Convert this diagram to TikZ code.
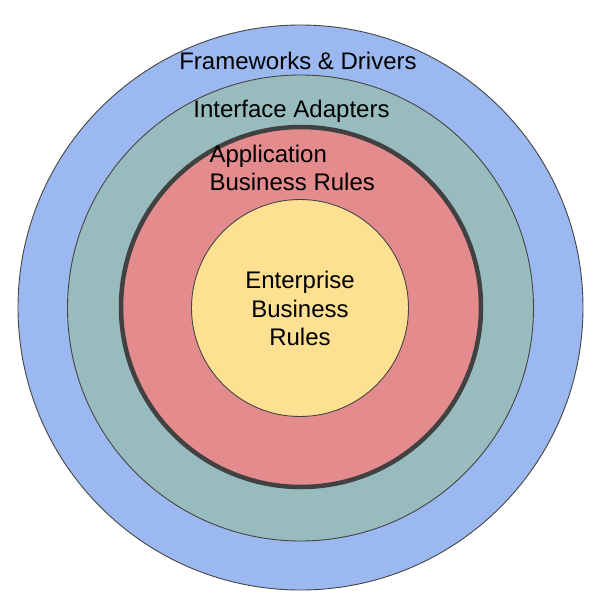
\documentclass[tikz,border=0pt]{standalone}
\usepackage{fontspec}
\setmainfont{Liberation Sans}
\definecolor{ringblue}{HTML}{9BB9F0}
\definecolor{ringteal}{HTML}{98BBBE}
\definecolor{ringred}{HTML}{E38B8D}
\definecolor{ringyellow}{HTML}{FDE091}
\definecolor{ringline}{HTML}{444444}
\begin{document}
\begin{tikzpicture}[x=1pt,y=-1pt,
  ring/.style={circle, draw=ringline, line width=0.9pt, inner sep=0pt, outer sep=0pt},
  label/.style={inner sep=0pt, outer sep=0pt, font=\fontsize{24}{28.5}\selectfont, text=black}]
  \useasboundingbox (0,0) rectangle (600,616);
  % concentric layers, outermost first
  \node[ring, fill=ringblue,   minimum size=565pt] (frameworks) at (300.5,307.5) {};
  \node[ring, fill=ringteal,   minimum size=466pt] (adapters)   at (300.5,308) {};
  \node[ring, fill=ringred, line width=4.5pt, draw=ringline!95!black, minimum size=360pt] (application) at (301,307) {};
  \node[ring, fill=ringyellow, minimum size=217pt] (enterprise) at (300,308) {};
  % layer names
  \node[label, anchor=base] (tfw) at (298,69.5) {Frameworks \& Drivers};
  \node[label, anchor=base] (tia) at (291.5,117.5) {Interface Adapters};
  \node[label, anchor=north west, align=left] (tab) at (209.5,145) {Application\\Business Rules};
  \node[label, anchor=north, align=center] (teb) at (300,271.5) {Enterprise\\Business\\Rules};
\end{tikzpicture}
\end{document}
